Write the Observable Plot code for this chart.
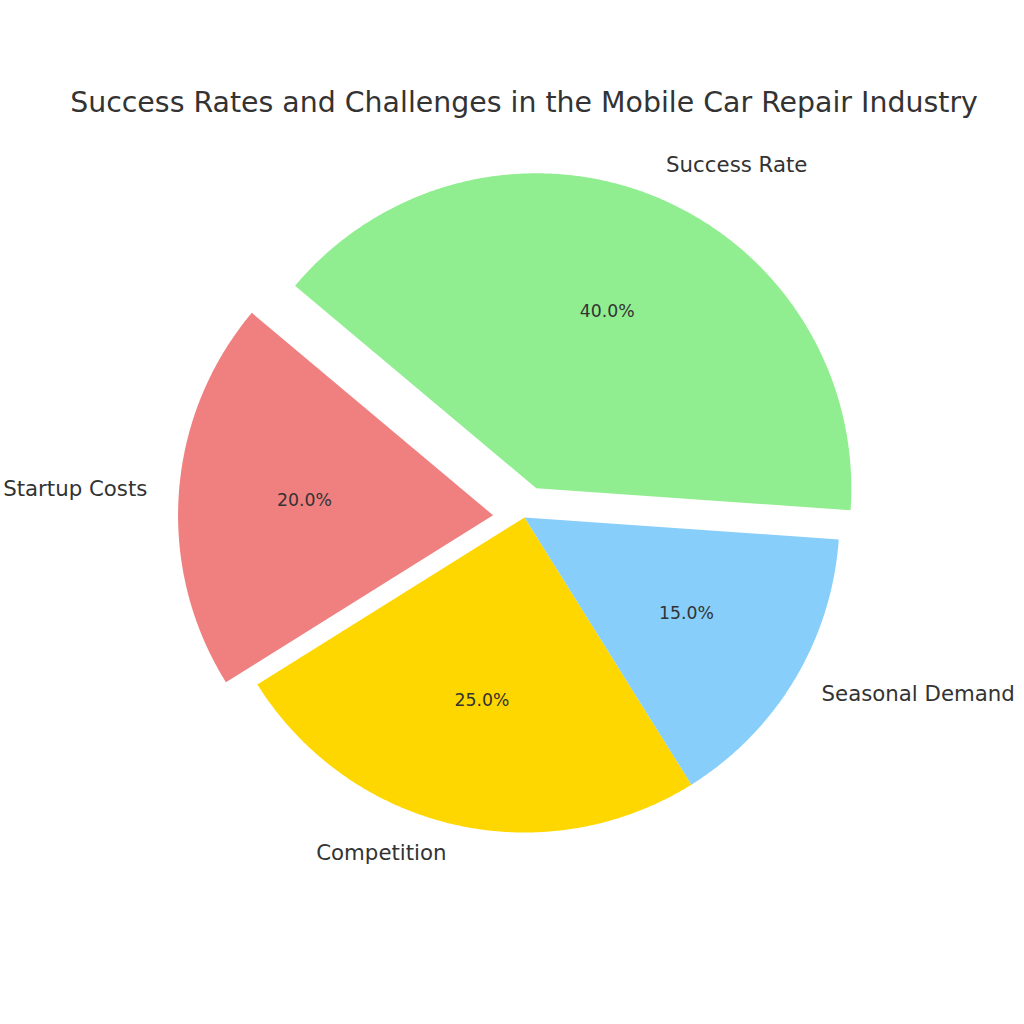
<!DOCTYPE html>
<html>
<head>
<meta charset="utf-8">
<script src="https://cdn.jsdelivr.net/npm/d3@7"></script>
<script src="https://cdn.jsdelivr.net/npm/@observablehq/plot@0.6"></script>
<style>
  html, body { margin: 0; padding: 0; background: #fff; }
  #title { height: 130px; box-sizing: border-box; padding-top: 86px; line-height: 34px;
    font-family: "DejaVu Sans", sans-serif; font-size: 28.4px; color: #333; text-align: center; white-space: nowrap; padding-left: 24px; }
  #chart svg { display: block; }
</style>
</head>
<body>
<div id="title">Success Rates and Challenges in the Mobile Car Repair Industry</div>
<div id="chart"></div>
<script>
const labels = ["Startup Costs", "Competition", "Seasonal Demand", "Success Rate"];
const values = [20, 25, 15, 40];
const colors = ["lightcoral", "gold", "lightskyblue", "lightgreen"];
const explode = [0.1, 0, 0, 0.1];
const startAngle = 140; // degrees, counterclockwise from +x

// layout (pixels)
const W = 1024, H = 894, cx = 524, cy = 387, R = 315;

const total = d3.sum(values);
const slices = [];
let a = startAngle;
values.forEach((v, i) => {
  const span = v / total * 360;
  const a0 = a, a1 = a + span, mid = (a0 + a1) / 2;
  const m = mid * Math.PI / 180;
  const ox = explode[i] * Math.cos(m), oy = explode[i] * Math.sin(m);
  slices.push({label: labels[i], value: v, color: colors[i], a0, a1, mid, ox, oy});
  a = a1;
});

// polygon points for each slice in data units (radius 1)
const poly = [];
slices.forEach(s => {
  poly.push({label: s.label, x: s.ox, y: s.oy});
  const n = Math.max(2, Math.ceil((s.a1 - s.a0) * 2));
  for (let k = 0; k <= n; k++) {
    const t = (s.a0 + (s.a1 - s.a0) * k / n) * Math.PI / 180;
    poly.push({label: s.label, x: s.ox + Math.cos(t), y: s.oy + Math.sin(t)});
  }
  poly.push({label: s.label, x: s.ox, y: s.oy});
});

const outer = slices.map(s => {
  const m = s.mid * Math.PI / 180;
  const x = s.ox + 1.1 * Math.cos(m), y = s.oy + 1.1 * Math.sin(m);
  return {text: s.label, x, y, anchor: x < 0 ? "end" : "start"};
});
const inner = slices.map(s => {
  const m = s.mid * Math.PI / 180;
  return {text: (s.value / total * 100).toFixed(1) + "%", x: s.ox + 0.6 * Math.cos(m), y: s.oy + 0.6 * Math.sin(m)};
});

const chart = Plot.plot({
  width: W, height: H,
  margin: 0,
  x: {domain: [-cx / R, (W - cx) / R], axis: null},
  y: {domain: [-(H - cy) / R, cy / R], axis: null},
  color: {domain: labels, range: colors},
  style: {fontFamily: "DejaVu Sans, sans-serif", background: "#fff"},
  marks: [
    Plot.line(poly, {x: "x", y: "y", z: "label", fill: "label", stroke: "none"}),
    Plot.text(outer.filter(d => d.anchor === "end"), {x: "x", y: "y", text: "text", textAnchor: "end", fontSize: 21.3, fill: "#333", dy: -2}),
    Plot.text(outer.filter(d => d.anchor === "start"), {x: "x", y: "y", text: "text", textAnchor: "start", fontSize: 21.3, fill: "#333", dy: -2}),
    Plot.text(inner, {x: "x", y: "y", text: "text", fontSize: 17.3, fill: "#333", dy: -1.5})
  ]
});
document.getElementById("chart").appendChild(chart);
</script>
</body>
</html>
